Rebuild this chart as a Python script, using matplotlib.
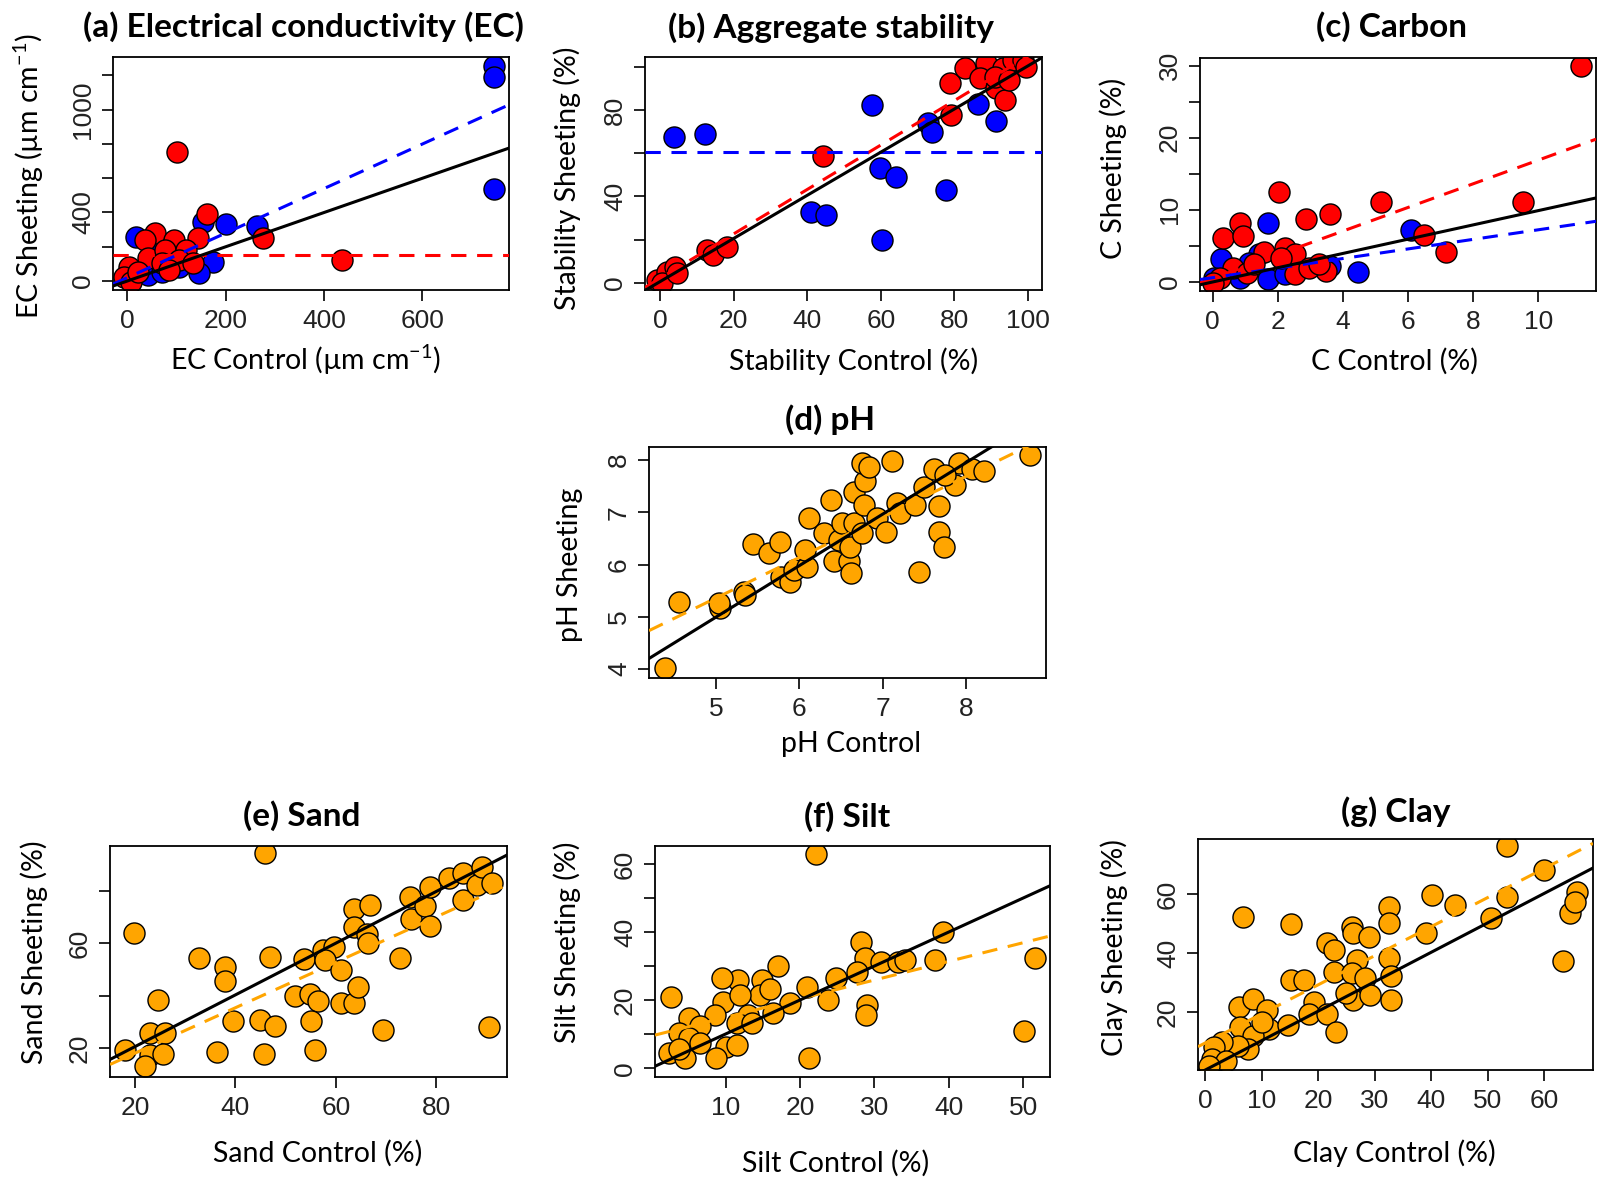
import matplotlib

matplotlib.use("Agg")
import matplotlib.pyplot as plt
import numpy as np

W, H = 1601, 1179
plt.rcParams.update({"font.family": ["Lato", "DejaVu Sans"], "mathtext.default": "regular"})

RED, BLUE, ORANGE = "#ff0000", "#0000ff", "#ffa500"

# ---------------------------------------------------------------- data
# (a) EC
ec_blue_x = [745, 745, 745, 17, 201, 264, 154, 175, 145, 42, 70, 105, 63]
ec_blue_y = [1258, 1194, 540, 254, 332, 320, 346, 113, 49, 35, 54, 83, 219]
ec_red_x = [101, 161, 276, 436, 56, 35, 94, 143, 42, 77, 119, 70, 3, -7, 7, 105, 84, 21, 133]
ec_red_y = [753, 394, 249, 122, 278, 239, 239, 249, 132, 181, 181, 103, 83, 25, -4, 122, 64, 54, 103]
ec_fit_all = (0, 1.0)
ec_fit_blue = (20, 1.3)
ec_fit_red = (151, 0.0)

# (b) aggregate stability
st_blue_x = [3.8, 12.2, 57.7, 59.9, 64.1, 60.2, 40.9, 45.0, 77.8, 72.9, 74.0, 86.4, 91.4]
st_blue_y = [67.3, 68.9, 82.3, 53.0, 49.1, 19.8, 32.9, 31.4, 42.9, 74.1, 70.0, 82.8, 75.1]
st_red_x = [44.2, 79.2, 78.9, 82.8, 88.7, 86.9, 93.2, 91.4, 93.7, 95.9, 98.6, 91.0, 94.9, 99.5,
            12.7, 14.5, 18.1, -0.9, 1.8, 4.1, 0.5, 4.5]
st_red_y = [58.7, 77.7, 92.4, 99.3, 101.6, 94.7, 99.3, 90.0, 84.6, 103.2, 103.2, 95.4, 93.9, 100.1,
            15.1, 12.8, 16.7, 1.2, 5.1, 7.4, -0.3, 4.3]
st_fit_all = (0.5, 1.0)
st_fit_blue = (60.4, 0.0)
st_fit_red = (2.0, 1.03)

# (c) carbon
c_blue_x = [1.69, 6.10, 4.46, 0.26, 1.43, 1.69, 0.05, 3.59, 0.84, 2.22, 1.11]
c_blue_y = [8.13, 7.2, 1.44, 3.16, 3.85, 0.37, 0.6, 2.23, 0.6, 1.07, 2.7]
c_red_x = [11.3, 2.03, 5.17, 9.54, 0.84, 0.32, 0.93, 2.87, 3.59, 6.49, 7.16, 1.58, 2.22, 2.53,
           2.11, 3.48, 2.53, 0.63, 1.06, 0.21, 0.0, 1.27, 2.96, 3.27]
c_red_y = [30.0, 12.45, 11.15, 11.15, 8.13, 6.08, 6.41, 8.73, 9.43, 6.55, 4.09, 4.09, 4.78, 3.85,
           3.39, 1.53, 1.07, 2.0, 1.3, 0.6, -0.1, 2.46, 2.0, 2.46]
c_fit_all = (0.0, 0.99)
c_fit_blue = (0.6, 0.664)
c_fit_red = (0.5, 1.64)

# (d) pH
ph_x = [4.39, 4.55, 8.77, 7.11, 5.05, 5.33, 5.44, 5.63, 5.77, 5.78, 5.89, 5.93, 6.09, 6.07, 6.11,
        6.29, 6.38, 6.41, 6.47, 6.51, 6.59, 6.62, 6.61, 6.65, 6.75, 6.65, 6.77, 6.79, 6.75, 6.83,
        6.93, 7.04, 7.17, 7.21, 7.39, 7.43, 7.49, 7.61, 7.68, 7.67, 7.73, 7.87, 7.91, 8.07, 8.21,
        7.75, 5.35, 5.03]
ph_y = [4.02, 5.29, 8.10, 7.98, 5.17, 5.48, 6.39, 6.23, 6.44, 5.77, 5.66, 5.90, 5.96, 6.28, 6.89,
        6.60, 7.24, 6.06, 6.47, 6.79, 6.06, 5.83, 6.34, 6.79, 6.60, 7.39, 7.14, 7.59, 7.94, 7.87,
        6.89, 6.63, 7.17, 6.98, 7.14, 5.85, 7.49, 7.82, 7.12, 6.63, 6.33, 7.52, 7.95, 7.82, 7.80,
        7.71, 5.42, 5.26]
ph_fit_all = (0.07, 0.985)
ph_fit_dash = (1.48, 0.776)

# (e) sand
sand_x = [45.9, 19.9, 32.7, 38.0, 38.0, 46.9, 24.6, 18.1, 22.9, 26.0, 22.9, 25.6, 21.9, 36.3,
          39.5, 44.8, 47.9, 45.7, 51.9, 54.8, 56.5, 55.1, 55.8, 53.7, 57.4, 59.6, 57.9, 61.1,
          61.0, 63.5, 64.4, 63.5, 63.6, 66.8, 66.1, 66.4, 69.3, 72.7, 74.7, 75.0, 77.7, 78.8,
          78.8, 82.6, 85.3, 85.3, 88.0, 89.0, 91.1, 90.4]
sand_y = [94.3, 63.8, 54.3, 51.1, 45.4, 54.9, 38.4, 19.4, 25.7, 25.7, 17.5, 17.8, 13.0, 18.3,
          30.2, 30.8, 28.5, 17.7, 39.7, 40.7, 37.8, 30.2, 19.1, 53.9, 57.5, 58.5, 53.6, 49.8,
          37.1, 37.1, 43.2, 73.0, 66.3, 74.6, 63.6, 60.0, 26.7, 54.3, 77.5, 69.1, 74.2, 66.6,
          81.6, 84.8, 86.7, 76.3, 82.2, 89.2, 83.1, 28.0]
sand_fit_all = (0.8, 0.987)
sand_fit_dash = (0.7, 0.867)

# (f) silt
silt_x = [22.1, 2.6, 39.2, 51.6, 50.1, 38.2, 28.2, 28.7, 30.9, 33.2, 27.7, 29.0, 28.9, 21.2,
          24.8, 23.7, 20.9, 18.7, 17.1, 14.9, 14.6, 15.9, 16.4, 11.7, 9.5, 9.6, 11.9, 8.5, 13.0,
          11.5, 5.1, 6.5, 3.7, 5.1, 10.1, 11.5, 8.7, 2.4, 4.6, 3.7, 6.5, 13.5, 34.1]
silt_y = [63.0, 21.1, 40.2, 32.4, 11.1, 31.9, 37.3, 32.4, 31.4, 31.4, 28.4, 18.6, 15.7, 2.9,
          26.5, 20.1, 24.0, 19.1, 30.1, 26.0, 21.6, 23.2, 16.2, 26.0, 26.5, 19.6, 21.6, 15.7, 15.7,
          13.2, 14.7, 12.3, 10.3, 8.8, 6.4, 6.9, 2.9, 4.6, 2.9, 5.6, 7.4, 13.2, 31.9]
silt_fit_all = (0.1, 1.0)
silt_fit_dash = (9.5, 0.549)

# (g) clay
clay_x = [53.5, 59.9, 6.6, 15.1, 40.1, 44.2, 53.5, 50.6, 39.1, 63.4, 64.6, 65.8, 65.5, 32.6,
          32.6, 25.9, 26.2, 29.0, 21.6, 22.8, 32.6, 26.8, 22.8, 25.9, 28.3, 32.9, 15.1, 17.4,
          19.2, 18.3, 26.2, 29.2, 32.9, 25.0, 21.6, 23.1, 6.0, 8.5, 11.0, 11.3, 14.6, 6.1, 8.5,
          7.6, 5.8, 3.0, 1.5, 1.2, 3.7, 0.6, 10.1]
clay_y = [76.3, 68.1, 52.2, 49.9, 59.8, 56.4, 59.2, 51.8, 46.7, 37.4, 53.8, 60.9, 57.5, 55.8,
          50.1, 49.0, 46.7, 45.6, 43.3, 41.0, 38.2, 37.6, 33.6, 33.1, 31.4, 32.2, 30.8, 30.8,
          23.4, 19.4, 24.0, 25.7, 24.0, 26.3, 19.4, 13.2, 21.7, 24.5, 20.6, 14.3, 15.5, 14.9,
          12.0, 7.5, 8.6, 9.8, 8.1, 4.1, 3.5, 1.8, 16.6]
clay_fit_all = (0.3, 1.0)
clay_fit_dash = (9.5, 0.988)


# ---------------------------------------------------------------- helpers
def px_axes(l, r, t, b):
    return fig.add_axes([l / W, 1 - b / H, (r - l) / W, (b - t) / H])


def fig_text(x, y, s, **kw):
    fig.text(x / W, 1 - y / H, s, ha="center", va="center", **kw)


def style(ax, xlim, ylim, xt, yt, ytl):
    ax.set_xlim(*xlim)
    ax.set_ylim(*ylim)
    ax.set_xticks(xt)
    ax.set_xticklabels([f"{v:g}" for v in xt], family="Liberation Sans", fontsize=19, color="#222")
    ax.set_yticks(yt)
    ax.set_yticklabels(ytl, family="Liberation Sans", fontsize=19, color="#222",
                       rotation=90, va="center")
    ax.tick_params(length=8, width=1.2)
    ax.tick_params(axis="x", pad=6)
    ax.tick_params(axis="y", pad=5)
    for s in ax.spines.values():
        s.set_linewidth(1.3)
    ax.set_autoscale_on(False)


def pts(ax, x, y, c):
    ax.scatter(x, y, s=230, c=c, edgecolors="black", linewidths=1.0, zorder=2)


def fit(ax, coef, color, dashed):
    xs = np.array(ax.get_xlim())
    ax.plot(xs, coef[0] + coef[1] * xs, color=color, lw=2.2, zorder=3,
            ls=(0, (5, 3.5)) if dashed else "-")


fig = plt.figure(figsize=(W / 100, H / 100), dpi=100)
TITLE = dict(fontsize=24, fontweight="bold")
LAB = dict(fontsize=20.5)

# (a)
ax = px_axes(113, 509, 57, 290)
style(ax, (-29.3, 776), (-52.6, 1308), [0, 200, 400, 600], list(range(0, 1201, 200)),
      ["0", "", "400", "", "", "1000", ""])
pts(ax, ec_blue_x, ec_blue_y, BLUE)
pts(ax, ec_red_x, ec_red_y, RED)
fit(ax, ec_fit_red, RED, True)
fit(ax, ec_fit_blue, BLUE, True)
fit(ax, ec_fit_all, "black", False)
fig_text(303, 27, "(a) Electrical conductivity (EC)", **TITLE)
fig_text(306, 360, "EC Control (µm cm$^{-1}$)", **LAB)
fig_text(29, 176, "EC Sheeting (µm cm$^{-1}$)", rotation=90, **LAB)

# (b)
ax = px_axes(645, 1042, 57, 290)
style(ax, (-4.1, 103.8), (-3.4, 104.6), list(range(0, 101, 20)), list(range(0, 101, 20)),
      ["0", "", "40", "", "80", ""])
pts(ax, st_blue_x, st_blue_y, BLUE)
pts(ax, st_red_x, st_red_y, RED)
fit(ax, st_fit_red, RED, True)
fit(ax, st_fit_blue, BLUE, True)
fit(ax, st_fit_all, "black", False)
fig_text(831, 28, "(b) Aggregate stability", **TITLE)
fig_text(854, 361, "Stability Control (%)", **LAB)
fig_text(567, 178, "Stability Sheeting (%)", rotation=90, **LAB)

# (c)
ax = px_axes(1200, 1596, 58, 291)
style(ax, (-0.39, 11.77), (-1.25, 31.06), list(range(0, 11, 2)), list(range(0, 31, 5)),
      ["0", "", "10", "", "20", "", "30"])
pts(ax, c_blue_x, c_blue_y, BLUE)
pts(ax, c_red_x, c_red_y, RED)
fit(ax, c_fit_red, RED, True)
fit(ax, c_fit_blue, BLUE, True)
fit(ax, c_fit_all, "black", False)
fig_text(1391, 27, "(c) Carbon", **TITLE)
fig_text(1394, 361, "C Control (%)", **LAB)
fig_text(1113, 168, "C Sheeting (%)", rotation=90, **LAB)

# (d)
ax = px_axes(649, 1046, 447, 678)
style(ax, (4.196, 8.96), (3.83, 8.25), [5, 6, 7, 8], [4, 5, 6, 7, 8], ["4", "5", "6", "7", "8"])
pts(ax, ph_x, ph_y, ORANGE)
fit(ax, ph_fit_dash, ORANGE, True)
fit(ax, ph_fit_all, "black", False)
fig_text(830, 420, "(d) pH", **TITLE)
fig_text(851, 744, "pH Control", **LAB)
fig_text(570, 565, "pH Sheeting", rotation=90, **LAB)

# (e)
ax = px_axes(110, 507, 846, 1077)
style(ax, (15.03, 94.05), (8.95, 97.07), [20, 40, 60, 80], [20, 40, 60, 80], ["20", "", "60", ""])
pts(ax, sand_x, sand_y, ORANGE)
fit(ax, sand_fit_dash, ORANGE, True)
fit(ax, sand_fit_all, "black", False)
fig_text(302, 816, "(e) Sand", **TITLE)
fig_text(318, 1153, "Sand Control (%)", **LAB)
fig_text(34, 952, "Sand Sheeting (%)", rotation=90, **LAB)

# (f)
ax = px_axes(655, 1050, 846, 1077)
style(ax, (0.5, 53.6), (-2.56, 65.4), [10, 20, 30, 40, 50], list(range(0, 61, 10)),
      ["0", "", "20", "", "40", "", "60"])
pts(ax, silt_x, silt_y, ORANGE)
fit(ax, silt_fit_dash, ORANGE, True)
fit(ax, silt_fit_all, "black", False)
fig_text(847, 817, "(f) Silt", **TITLE)
fig_text(836, 1163, "Silt Control (%)", **LAB)
fig_text(567, 942, "Silt Sheeting (%)", rotation=90, **LAB)

# (g)
ax = px_axes(1198, 1593, 839, 1070)
style(ax, (-1.29, 68.65), (0.3, 78.8), list(range(0, 61, 10)), [20, 40, 60], ["20", "40", "60"])
pts(ax, clay_x, clay_y, ORANGE)
fit(ax, clay_fit_dash, ORANGE, True)
fit(ax, clay_fit_all, "black", False)
fig_text(1396, 812, "(g) Clay", **TITLE)
fig_text(1394, 1153, "Clay Control (%)", **LAB)
fig_text(1114, 948, "Clay Sheeting (%)", rotation=90, **LAB)

fig.savefig("out.png", dpi=100)
